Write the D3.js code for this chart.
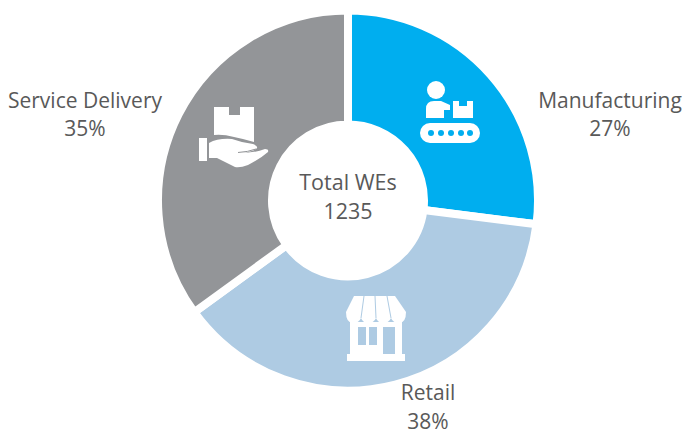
<!DOCTYPE html>
<html>
<head>
<meta charset="utf-8">
<script src="https://cdn.jsdelivr.net/npm/d3@7"></script>
<style>
html, body { margin: 0; padding: 0; background: #fff; overflow: hidden; }
text { font-family: "Open Sans", sans-serif; font-size: 21px; fill: #595959; }
</style>
</head>
<body>
<svg id="chart" width="685" height="435"></svg>
<script>
const categories = ["Manufacturing", "Retail", "Service Delivery"];
const shares = [27, 38, 35];
const colors = ["#00aeef", "#aecbe3", "#939598"];
const centerLines = ["Total WEs", "1235"];

const width = 685, height = 435;
const cx = 348, cy = 200.5;
const outer = 190, inner = 76;

const svg = d3.select("#chart");
const g = svg.append("g").attr("transform", `translate(${cx},${cy})`);

const pie = d3.pie().sort(null).value(d => d.value);
const arc = d3.arc().innerRadius(inner).outerRadius(outer);
const data = categories.map((c, i) => ({name: c, value: shares[i]}));

g.selectAll("path.slice")
	.data(pie(data))
	.enter().append("path")
	.attr("class", "slice")
	.attr("d", arc)
	.attr("fill", (d, i) => colors[i])
	.attr("stroke", "#fff")
	.attr("stroke-width", 8);

// slice labels, placed by hand like the original
// retail sits higher so its percent stays inside the window
const labelPos = [[610, 108, 28], [428, 400, 28.5], [85, 108, 28]];
data.forEach((d, i) => {
	const t = svg.append("text")
		.attr("text-anchor", "middle")
		.attr("x", labelPos[i][0])
		.attr("y", labelPos[i][1]);
	t.append("tspan").attr("x", labelPos[i][0]).text(d.name);
	t.append("tspan").attr("x", labelPos[i][0]).attr("dy", labelPos[i][2]).text(d.value + "%");
});

// centre text
const ct = svg.append("text").attr("text-anchor", "middle").attr("x", 348).attr("y", 190).style("font-size", "21.5px");
centerLines.forEach((l, i) => {
	ct.append("tspan").attr("x", 348).attr("dy", i ? 29 : 0).text(l);
});

// icons
const icons = svg.append("g").attr("fill", "#fff");

// conveyor
icons.append("circle").attr("cx", 436).attr("cy", 90).attr("r", 9);
icons.append("path").attr("d", "M426 118V109Q426 101 434 101H441L450 105V110H444V118Z");
icons.append("path").attr("d", "M453 101H459V106H467V101H473V118H453Z");
icons.append("rect").attr("x", 420).attr("y", 123).attr("width", 60).attr("height", 20).attr("rx", 10);
[431, 441, 451, 461, 470].forEach(x => {
	icons.append("circle").attr("cx", x).attr("cy", 133).attr("r", 3).attr("fill", colors[0]);
});

// shop
icons.append("path").attr("d", "M354 296H395L406 312Q406 323 399 323Q393 323 391 318Q389 323 383 323Q378 323 376 318Q374 323 368 323Q363 323 361 318Q359 323 353 323Q346 323 346 312Z");
icons.append("path").attr("d", "M350 322H402V354H405V361H347V354H350Z");
[[358, 327, 8, 18], [369, 327, 8, 18], [383, 327, 12, 27]].forEach(r => {
	icons.append("rect").attr("x", r[0]).attr("y", r[1]).attr("width", r[2]).attr("height", r[3]).attr("fill", colors[1]);
});
[[364, 361], [375, 376], [387, 391]].forEach(p => {
	icons.append("line").attr("x1", p[0]).attr("y1", 296).attr("x2", p[1]).attr("y2", 318)
		.attr("stroke", colors[1]).attr("stroke-width", 1);
});

// hand with box
icons.append("path").attr("d", "M214 107H229V115H240V107H254V142Q244 139 234 137Q223 134 214 135Z");
icons.append("rect").attr("x", 199).attr("y", 138).attr("width", 8).attr("height", 23);
icons.append("path").attr("d", "M209 143Q218 138 232 139Q243 143 253 144Q258 146 257 148Q254 152 240 153Q254 153 265 149Q269 149 268 152Q260 159 248 165Q240 168 235 167L217 158H209Z");
icons.append("path").attr("d", "M238 152.5Q248 152 256 149").attr("fill", "none").attr("stroke", colors[2]).attr("stroke-width", 1);
</script>
</body>
</html>
